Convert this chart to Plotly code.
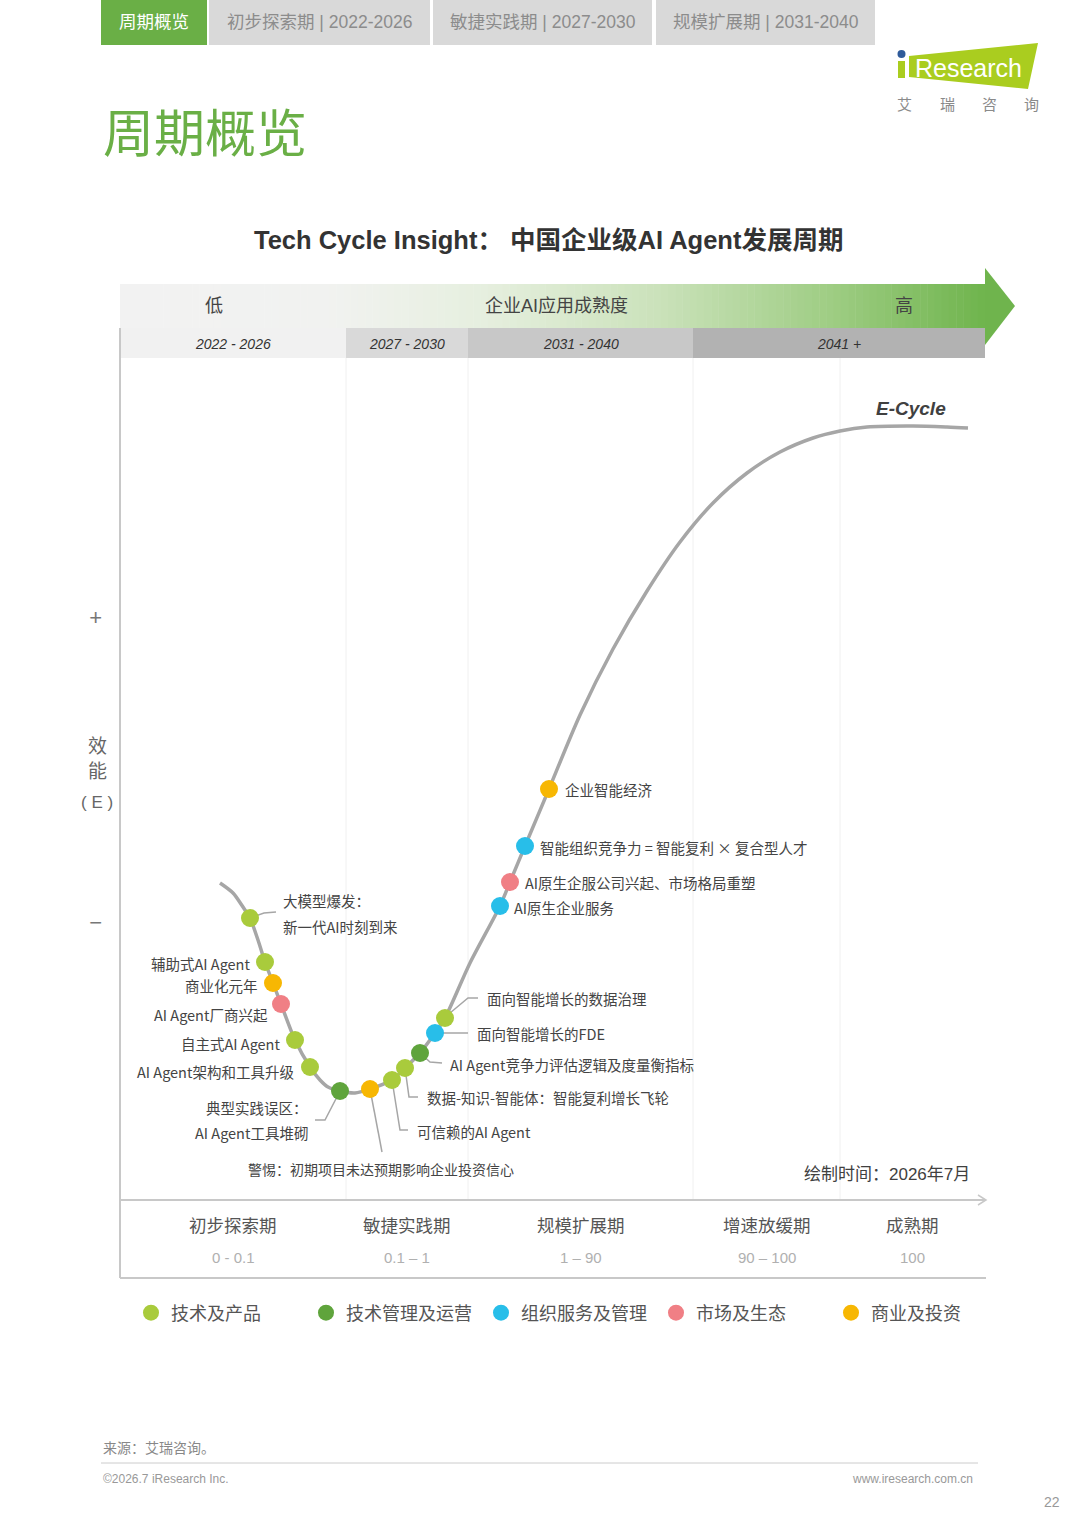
import plotly.graph_objects as go

W, H = 1080, 1528

# ---------------- data ----------------
# E-Cycle curve: x = enterprise AI maturity (arbitrary units), y = efficiency E (arbitrary units)
curve_x = [10.0, 11.3, 12.3, 13.0, 13.8, 14.5, 15.3, 16.1, 17.5, 19.0, 20.0, 20.8, 22.0, 23.5,
           25.0, 27.2, 28.5, 30.0, 31.5, 32.5, 35.0, 38.0, 39.0, 40.5, 42.9, 46.0, 49.3, 52.7,
           56.0, 59.3, 62.7, 66.0, 69.3, 72.0, 74.7, 79.3, 82.7, 84.8]
curve_y = [31.7, 30.7, 29.3, 28.2, 26.0, 23.8, 21.7, 19.6, 16.0, 13.3, 12.0, 11.3, 10.9, 10.7,
           11.1, 12.0, 13.2, 14.7, 16.7, 18.2, 23.7, 29.4, 31.8, 35.4, 41.1, 48.5, 55.1, 60.9,
           65.8, 69.7, 72.7, 74.8, 76.2, 76.9, 77.3, 77.4, 77.3, 77.2]

milestone_x = [13.0, 14.5, 15.3, 16.1, 17.5, 19.0, 22.0, 25.0, 27.2, 28.5, 30.0, 31.5, 32.5,
               38.0, 39.0, 40.5, 42.9]
milestone_y = [28.2, 23.8, 21.7, 19.6, 16.0, 13.3, 10.9, 11.1, 12.0, 13.2, 14.7, 16.7, 18.2,
               29.4, 31.8, 35.4, 41.1]
milestone_cat = ["技术及产品", "技术及产品", "商业及投资", "市场及生态", "技术及产品", "技术及产品",
                 "技术管理及运营", "商业及投资", "技术及产品", "技术及产品", "技术管理及运营",
                 "组织服务及管理", "技术及产品", "组织服务及管理", "市场及生态", "组织服务及管理",
                 "商业及投资"]
milestone_text = [
    "大模型爆发：\n新一代AI时刻到来",
    "辅助式AI Agent",
    "商业化元年",
    "AI Agent厂商兴起",
    "自主式AI Agent",
    "AI Agent架构和工具升级",
    "典型实践误区：\nAI Agent工具堆砌",
    "警惕：初期项目未达预期影响企业投资信心",
    "可信赖的AI Agent",
    "数据-知识-智能体：智能复利增长飞轮",
    "AI Agent竞争力评估逻辑及度量衡指标",
    "面向智能增长的FDE",
    "面向智能增长的数据治理",
    "AI原生企业服务",
    "AI原生企服公司兴起、市场格局重塑",
    "智能组织竞争力 = 智能复利 × 复合型人才",
    "企业智能经济",
]

categories = ["技术及产品", "技术管理及运营", "组织服务及管理", "市场及生态", "商业及投资"]

phase_names = ["初步探索期", "敏捷实践期", "规模扩展期", "增速放缓期", "成熟期"]
phase_ranges = ["0 - 0.1", "0.1 – 1", "1 – 90", "90 – 100", "100"]
phase_bounds = [0, 22.6, 34.8, 57.3, 72.0, 86.5]

year_labels = ["2022 - 2026", "2027 - 2030", "2031 - 2040", "2041 +"]
year_bounds = [0, 22.6, 34.8, 57.3, 86.5]

ytick_vals = [58.3, 27.8]
ytick_text = ["+", "−"]

tab_labels = ["周期概览", "初步探索期 | 2022-2026", "敏捷实践期 | 2027-2030", "规模扩展期 | 2031-2040"]

# ---------------- styles / layout positions ----------------
cat_colors = {"技术及产品": "#a9cb3c", "技术管理及运营": "#5fa43c", "组织服务及管理": "#28bee9",
              "市场及生态": "#f07f85", "商业及投资": "#f7b703"}
year_fill = ["#f1f1f1", "#d9d9d9", "#c8c8c8", "#b2b2b2"]
FONT = "Liberation Sans, Noto Sans CJK SC, sans-serif"
CJK = "Noto Sans CJK SC, Liberation Sans, sans-serif"
LBL = 14.5

# label placement per milestone: (dx, dy, xanchor, line_gap, leader points) in screen px, dy down
label_layout = [
    (31, -18, "left", 26, [(0, 0), (14, -5), (26, -6)]),
    (-13, 1, "right", 0, None),
    (-13, 2, "right", 0, None),
    (-11, 10, "right", 0, None),
    (-13, 3, "right", 0, None),
    (-14, 4, "right", 0, None),
    (-30, 16, "right", 25, [(0, 0), (-15, 29), (-25, 29)]),
    (11, 80, "center", 0, [(0, 0), (12, 63)]),
    (23, 51, "left", 0, [(0, 0), (8, 50), (16, 50)]),
    (20, 29, "left", 0, [(0, 0), (4, 29), (13, 29)]),
    (28, 11, "left", 0, [(0, 0), (10, 9), (22, 10)]),
    (40, 0, "left", 0, [(0, 0), (33, 0)]),
    (40, -20, "left", 0, [(5, -5), (23, -20), (33, -20)]),
    (12, 1, "left", 0, None),
    (13, 0, "left", 0, None),
    (13, 1, "left", 0, None),
    (14, 0, "left", 0, None),
]


def px(x):
    return x / W


def py(y):
    return 1 - y / H


fig = go.Figure()

# curve
fig.add_trace(go.Scatter(x=curve_x, y=curve_y, mode="lines",
                         line=dict(color="#a6a6a6", width=3.5, shape="spline", smoothing=0.8),
                         hoverinfo="skip", showlegend=False))

# milestone dots, one trace per category (drives the legend)
for cat in categories:
    idx = [i for i, c in enumerate(milestone_cat) if c == cat]
    fig.add_trace(go.Scatter(
        x=[milestone_x[i] for i in idx], y=[milestone_y[i] for i in idx],
        mode="markers", name=cat,
        marker=dict(size=18, color=cat_colors[cat], line=dict(width=0)),
        text=[milestone_text[i] for i in idx], hoverinfo="text"))

shapes = []
ann = []


def text(t, x, y, size, color="#444", xanchor="center", xref="paper", yref="paper",
         family=FONT, **kw):
    ann.append(dict(text=t, x=x, y=y, xref=xref, yref=yref, showarrow=False,
                    xanchor=xanchor, yanchor="middle", font=dict(size=size, color=color, family=family),
                    **kw))


# ---- top tabs ----
tab_x = [(101, 207), (209, 430), (433, 652), (656, 875)]
for i, (a, b) in enumerate(tab_x):
    shapes.append(dict(type="rect", xref="paper", yref="paper", x0=px(a), x1=px(b), y0=py(45), y1=py(0),
                       fillcolor="#6aaf46" if i == 0 else "#d9d9d9", line=dict(width=0)))
    text(tab_labels[i], px((a + b) / 2), py(22), 17.5, "#ffffff" if i == 0 else "#8c8c8c")

# big page title
text("周期概览", px(101), py(130), 51, "#6aaf46", "left", family=CJK)

# logo
shapes.append(dict(type="path", xref="paper", yref="paper",
                   path=f"M{px(909)},{py(56)} L{px(1038)},{py(43)} L{px(1028)},{py(89)} L{px(909)},{py(77)} Z",
                   fillcolor="#aacd1f", line=dict(width=0)))
shapes.append(dict(type="rect", xref="paper", yref="paper", x0=px(898), x1=px(905), y0=py(78), y1=py(61),
                   fillcolor="#aacd1f", line=dict(width=0)))
shapes.append(dict(type="circle", xref="paper", yref="paper", x0=px(897.5), x1=px(905.5), y0=py(58), y1=py(50),
                   fillcolor="#2f5b9a", line=dict(width=0)))
text("Research", px(968), py(68), 25, "#ffffff", family="Liberation Sans, sans-serif")
for k, ch in enumerate(["艾", "瑞", "咨", "询"]):
    text(ch, px(905 + 42 * k), py(104), 15, "#8a8a8a")

# chart title
text("<b>Tech Cycle Insight： 中国企业级AI Agent发展周期</b>", px(548), py(240), 25.5, "#333333")

# ---- header gradient band with arrow ----
def lerp_color(stops, t):
    for (t0, c0), (t1, c1) in zip(stops[:-1], stops[1:]):
        if t0 <= t <= t1:
            f = (t - t0) / (t1 - t0) if t1 > t0 else 0
            c0 = [int(c0[i:i + 2], 16) for i in (1, 3, 5)]
            c1 = [int(c1[i:i + 2], 16) for i in (1, 3, 5)]
            return "rgb(%d,%d,%d)" % tuple(round(a + (b - a) * f) for a, b in zip(c0, c1))
    return stops[-1][1]


grad = [(0, "#f2f2f2"), (0.24, "#f1f2f0"), (0.42, "#e6efdf"), (0.62, "#cbe2bb"),
        (0.82, "#9fcd84"), (1.0, "#6fb44d")]
N = 120
x_end = year_bounds[-1]
for k in range(N):
    x0 = x_end * k / N
    x1 = x_end * (k + 1) / N + 0.05
    shapes.append(dict(type="rect", xref="x", yref="paper", x0=x0, x1=x1, y0=py(328), y1=py(284),
                       fillcolor=lerp_color(grad, (k + 0.5) / N), line=dict(width=0), layer="below"))
shapes.append(dict(type="path", xref="paper", yref="paper",
                   path=f"M{px(985)},{py(268)} L{px(1015)},{py(306)} L{px(985)},{py(345)} Z",
                   fillcolor="#6fb44d", line=dict(width=0), layer="below"))
text("低", px(214), py(306), 18, "#444")
text("企业AI应用成熟度", px(556), py(306), 18, "#444")
text("高", px(904), py(306), 18, "#444")

# year row
for i, lab in enumerate(year_labels):
    shapes.append(dict(type="rect", xref="x", yref="paper", x0=year_bounds[i], x1=year_bounds[i + 1],
                       y0=py(358), y1=py(328), fillcolor=year_fill[i], line=dict(width=0), layer="below"))
    text(f"<i>{lab}</i>", (year_bounds[i] + year_bounds[i + 1]) / 2, py(344), 14, "#333", xref="x")

# faint vertical phase separators
for b in phase_bounds[1:-1]:
    shapes.append(dict(type="line", xref="x", yref="paper", x0=b, x1=b, y0=py(1200), y1=py(358),
                       line=dict(color="#f0f0f0", width=1), layer="below"))

# frame lines
shapes.append(dict(type="line", xref="paper", yref="paper", x0=px(120), x1=px(120), y0=py(1278), y1=py(328),
                   line=dict(color="#c8c8c8", width=2)))
shapes.append(dict(type="line", xref="paper", yref="paper", x0=px(120), x1=px(986), y0=py(1200), y1=py(1200),
                   line=dict(color="#c8c8c8", width=2)))
shapes.append(dict(type="path", xref="paper", yref="paper",
                   path=f"M{px(978)},{py(1195)} L{px(986)},{py(1200)} L{px(978)},{py(1205)}",
                   line=dict(color="#c8c8c8", width=1.5)))
shapes.append(dict(type="line", xref="paper", yref="paper", x0=px(120), x1=px(986), y0=py(1278), y1=py(1278),
                   line=dict(color="#c8c8c8", width=2)))

# y-axis caption
text("效<br>能", px(97), py(759), 19, "#666")
text("( E )", px(97), py(803), 17, "#666")

# E-Cycle label & date
text("<b><i>E-Cycle</i></b>", px(911), py(408), 19, "#404040")
text("绘制时间：2026年7月", px(972), py(1174), 17, "#404040", "right")

# milestone labels & leaders
for i, (dx, dy, xa, gap, leader) in enumerate(label_layout):
    lines = milestone_text[i].split("\n")
    for j, ln in enumerate(lines):
        ann.append(dict(text=ln, x=milestone_x[i], y=milestone_y[i], xref="x", yref="y", showarrow=False,
                        xanchor=xa, yanchor="middle", xshift=dx, yshift=-(dy + j * gap),
                        font=dict(size=14 if i == 7 else LBL, color="#444", family=CJK)))
    if leader:
        path = " ".join(("M" if k == 0 else "L") + f"{a},{-b}" for k, (a, b) in enumerate(leader))
        shapes.append(dict(type="path", xref="x", yref="y", xsizemode="pixel", ysizemode="pixel",
                           xanchor=milestone_x[i], yanchor=milestone_y[i], path=path,
                           line=dict(color="#a6a6a6", width=1.5), layer="below"))

# bottom phase labels
for i, name in enumerate(phase_names):
    mid = (phase_bounds[i] + phase_bounds[i + 1]) / 2
    text(name, mid, py(1226), 17.5, "#555", xref="x")
    text(phase_ranges[i], mid, py(1257), 15, "#b0b0b0", xref="x")

# footer
text("来源：艾瑞咨询。", px(101), py(1448), 14, "#888", "left")
shapes.append(dict(type="line", xref="paper", yref="paper", x0=px(101), x1=px(978), y0=py(1463), y1=py(1463),
                   line=dict(color="#cccccc", width=1)))
text("©2026.7 iResearch Inc.", px(101), py(1479), 12, "#999", "left")
text("www.iresearch.com.cn", px(975), py(1479), 12, "#999", "right")
text("22", px(1062), py(1502), 14, "#999", "right")

fig.update_layout(
    width=W, height=H, margin=dict(l=0, r=0, t=0, b=0),
    paper_bgcolor="#ffffff", plot_bgcolor="rgba(0,0,0,0)",
    font=dict(family=FONT, color="#444"),
    xaxis=dict(domain=[px(120), px(985)], range=[0, 86.5], showgrid=False, zeroline=False,
               showticklabels=False, ticks="", showline=False, fixedrange=True),
    yaxis=dict(domain=[py(1200), py(360)], range=[0, 84], showgrid=False, zeroline=False,
               tickmode="array", tickvals=ytick_vals, ticktext=ytick_text, ticks="",
               tickfont=dict(size=22, color="#777"), ticklabelstandoff=17, showline=False,
               fixedrange=True),
    showlegend=True,
    legend=dict(orientation="h", x=px(131), xanchor="left", y=py(1313), yanchor="middle",
                font=dict(size=18, color="#555", family=CJK), bgcolor="rgba(0,0,0,0)",
                entrywidth=130, entrywidthmode="pixels", itemclick=False, itemdoubleclick=False),
    shapes=shapes, annotations=ann, hovermode="closest",
)

fig.write_html("out.html", config={"displayModeBar": False},
               post_script="document.body.style.margin='0';")
